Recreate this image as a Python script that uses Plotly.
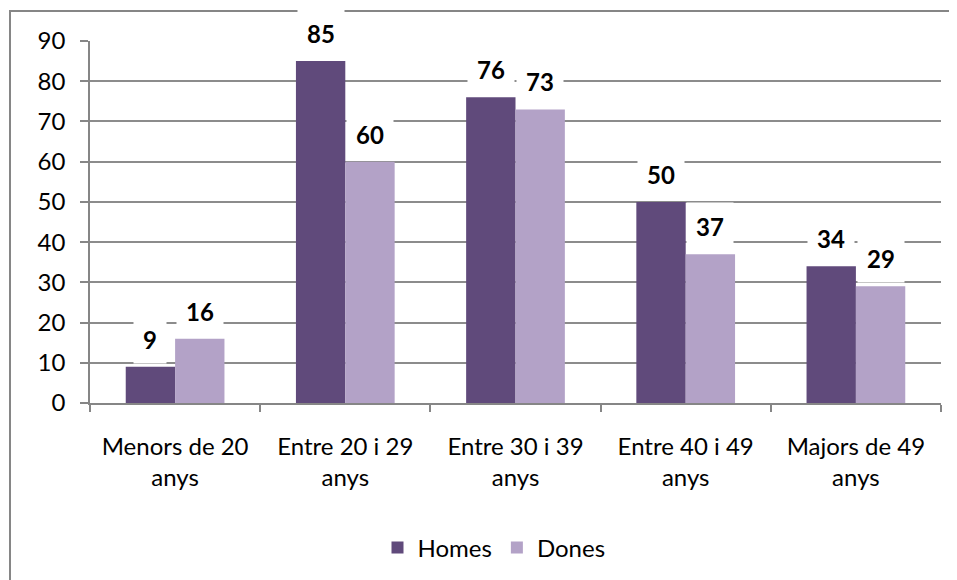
import plotly.graph_objects as go

categories = ["Menors de 20<br>anys", "Entre 20 i 29<br>anys", "Entre 30 i 39<br>anys",
              "Entre 40 i 49<br>anys", "Majors de 49<br>anys"]
homes = [9, 85, 76, 50, 34]
dones = [16, 60, 73, 37, 29]
series_names = ["Homes", "Dones"]
colors = ["#604A7B", "#B3A2C7"]
y_ticks = [0, 10, 20, 30, 40, 50, 60, 70, 80, 90]

FONT = "Lato"
OFF = 8  # page body margin
W, H = 957 - OFF, 580 - OFF
ML, MT = 90 - OFF, 41 - OFF
plot_w, plot_h = 851, 362
MR = W - ML - plot_w
MB = H - MT - plot_h
bargap = 0.42
cat_px = plot_w / len(categories)
bar_px = cat_px * (1 - bargap) / 2

fig = go.Figure()
for name, vals, col in zip(series_names, [homes, dones], colors):
    fig.add_trace(go.Bar(x=categories, y=vals, name=name, marker_color=col,
                         marker_line_width=0))

annotations = []
for vals, sgn in [(homes, -1), (dones, 1)]:
    for c, v in zip(categories, vals):
        annotations.append(dict(
            x=c, y=v, xref="x", yref="y", text=f"<b>{v}</b>", showarrow=False,
            xshift=sgn * bar_px / 2, yanchor="bottom", yshift=3,
            bgcolor="white", borderpad=9,
            font=dict(family=FONT, size=24, color="black")))

# chart border (reference page pixels converted to figure coordinates)
px2x = lambda px: (px - OFF - ML) / plot_w
px2y = lambda py: (H - MB - (py - OFF)) / plot_h
shapes = [dict(type="rect", xref="paper", yref="paper",
               x0=px2x(10), x1=px2x(962), y0=px2y(590), y1=px2y(11),
               line=dict(color="#868686", width=2), fillcolor="rgba(0,0,0,0)",
               layer="below")]

fig.update_layout(
    width=W, height=H, margin=dict(l=ML, r=MR, t=MT, b=MB, autoexpand=False),
    paper_bgcolor="white", plot_bgcolor="white",
    barmode="group", bargap=bargap, bargroupgap=0,
    font=dict(family=FONT, size=24, color="black"),
    showlegend=True,
    legend=dict(orientation="h", x=px2x(494), xanchor="center", y=px2y(548), yanchor="middle",
                font=dict(family=FONT, size=24, color="black"),
                traceorder="normal"),
    annotations=annotations, shapes=shapes,
    xaxis=dict(type="category", tickson="boundaries", ticks="outside", ticklen=7,
               tickcolor="#868686", tickwidth=1.5, showline=True, linecolor="#868686",
               linewidth=1.5, showgrid=False, ticklabelstandoff=21,
               tickfont=dict(family=FONT, size=24)),
    yaxis=dict(range=[0, 90], tickvals=y_ticks, ticks="outside", ticklen=8,
               tickcolor="#868686", tickwidth=1.5, showline=True, linecolor="#868686",
               linewidth=1.5, showgrid=True, gridcolor="#8c8c8c", gridwidth=1.5,
               zeroline=False, ticklabelstandoff=10,
               tickfont=dict(family=FONT, size=24)),
)

fig.write_html("out.html")
